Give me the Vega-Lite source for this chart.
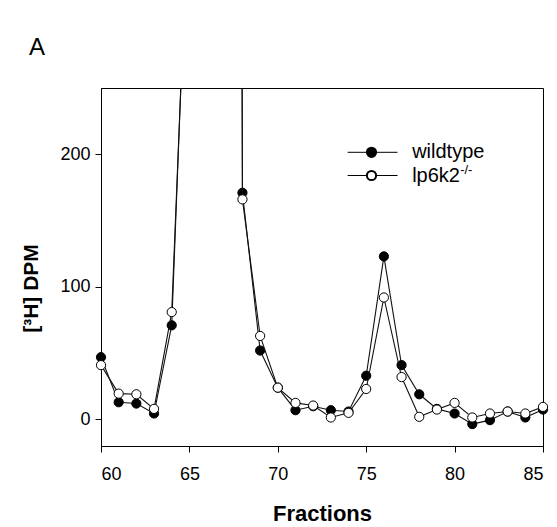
{
  "$schema": "https://vega.github.io/schema/vega-lite/v6.json",
  "width": 442,
  "height": 358,
  "autosize": {"type": "none"},
  "padding": {"left": 101, "top": 88, "right": 14, "bottom": 81},
  "background": "white",
  "config": {
    "font": "Liberation Sans",
    "view": {"stroke": "black", "strokeWidth": 1},
    "axis": {"grid": false, "domainColor": "black", "tickColor": "black", "labelColor": "black", "titleColor": "black", "labelFont": "Liberation Sans", "titleFont": "Liberation Sans"}
  },
  "title": {"text": "A", "anchor": "start", "frame": "group", "dx": -72, "offset": 28, "fontSize": 24, "fontWeight": "normal", "font": "Liberation Sans", "color": "black"},
  "datasets": {
    "counts": [
      {"fraction": 60, "series": "wildtype", "dpm": 47},
      {"fraction": 61, "series": "wildtype", "dpm": 13},
      {"fraction": 62, "series": "wildtype", "dpm": 12},
      {"fraction": 63, "series": "wildtype", "dpm": 4.5},
      {"fraction": 64, "series": "wildtype", "dpm": 71},
      {"fraction": 65, "series": "wildtype", "dpm": 420},
      {"fraction": 66, "series": "wildtype", "dpm": 6000},
      {"fraction": 67, "series": "wildtype", "dpm": 5000},
      {"fraction": 68, "series": "wildtype", "dpm": 171},
      {"fraction": 69, "series": "wildtype", "dpm": 52},
      {"fraction": 70, "series": "wildtype", "dpm": 24},
      {"fraction": 71, "series": "wildtype", "dpm": 7},
      {"fraction": 72, "series": "wildtype", "dpm": 10},
      {"fraction": 73, "series": "wildtype", "dpm": 7},
      {"fraction": 74, "series": "wildtype", "dpm": 6},
      {"fraction": 75, "series": "wildtype", "dpm": 33},
      {"fraction": 76, "series": "wildtype", "dpm": 123},
      {"fraction": 77, "series": "wildtype", "dpm": 41},
      {"fraction": 78, "series": "wildtype", "dpm": 19},
      {"fraction": 79, "series": "wildtype", "dpm": 8},
      {"fraction": 80, "series": "wildtype", "dpm": 4.5},
      {"fraction": 81, "series": "wildtype", "dpm": -3.5},
      {"fraction": 82, "series": "wildtype", "dpm": -0.5},
      {"fraction": 83, "series": "wildtype", "dpm": 6},
      {"fraction": 84, "series": "wildtype", "dpm": 1.5},
      {"fraction": 85, "series": "wildtype", "dpm": 7.5},
      {"fraction": 60, "series": "lp6k2", "dpm": 41},
      {"fraction": 61, "series": "lp6k2", "dpm": 19.5},
      {"fraction": 62, "series": "lp6k2", "dpm": 19},
      {"fraction": 63, "series": "lp6k2", "dpm": 8},
      {"fraction": 64, "series": "lp6k2", "dpm": 81},
      {"fraction": 65, "series": "lp6k2", "dpm": 410},
      {"fraction": 66, "series": "lp6k2", "dpm": 6000},
      {"fraction": 67, "series": "lp6k2", "dpm": 5000},
      {"fraction": 68, "series": "lp6k2", "dpm": 166},
      {"fraction": 69, "series": "lp6k2", "dpm": 63},
      {"fraction": 70, "series": "lp6k2", "dpm": 24},
      {"fraction": 71, "series": "lp6k2", "dpm": 12.5},
      {"fraction": 72, "series": "lp6k2", "dpm": 10.5},
      {"fraction": 73, "series": "lp6k2", "dpm": 1.5},
      {"fraction": 74, "series": "lp6k2", "dpm": 5},
      {"fraction": 75, "series": "lp6k2", "dpm": 23},
      {"fraction": 76, "series": "lp6k2", "dpm": 92},
      {"fraction": 77, "series": "lp6k2", "dpm": 32},
      {"fraction": 78, "series": "lp6k2", "dpm": 2},
      {"fraction": 79, "series": "lp6k2", "dpm": 7.5},
      {"fraction": 80, "series": "lp6k2", "dpm": 12.5},
      {"fraction": 81, "series": "lp6k2", "dpm": 1.5},
      {"fraction": 82, "series": "lp6k2", "dpm": 4.5},
      {"fraction": 83, "series": "lp6k2", "dpm": 6},
      {"fraction": 84, "series": "lp6k2", "dpm": 4.5},
      {"fraction": 85, "series": "lp6k2", "dpm": 9.5}
    ],
    "legend": [
      {"series": "wildtype", "label": "wildtype", "sup": ""},
      {"series": "lp6k2", "label": "lp6k2", "sup": "-/-"}
    ]
  },
  "layer": [
    {"data": {"name": "counts"},
     "transform": [{"filter": "datum.series === 'wildtype'"}],
     "mark": {"type": "line", "color": "#111111", "strokeWidth": 1.1, "clip": true},
     "encoding": {
       "x": {"field": "fraction", "type": "quantitative",
         "scale": {"domain": [60, 85], "nice": false, "zero": false},
         "axis": {"values": [60, 65, 70, 75, 80, 85], "tickSize": 6, "labelFontSize": 18, "labelPadding": 13, "title": "Fractions", "titleFontSize": 22, "titleFontWeight": "bold", "titlePadding": 20}},
       "y": {"field": "dpm", "type": "quantitative",
         "scale": {"domain": [-20, 250], "nice": false, "zero": false},
         "axis": {"values": [0, 100, 200], "tickSize": 6, "labelFontSize": 18, "labelPadding": 5, "title": "[³H] DPM", "titleFontSize": 21, "titleFontWeight": "bold", "titleX": -60, "titleY": 200, "titleAngle": -90, "titleAlign": "center", "titleBaseline": "bottom"}}
     }},
    {"data": {"name": "counts"},
     "transform": [{"filter": "datum.series === 'wildtype' && datum.dpm <= 250"}],
     "mark": {"type": "point", "shape": "circle", "filled": true, "fill": "black", "stroke": "black", "strokeWidth": 1, "size": 85, "opacity": 1},
     "encoding": {"x": {"field": "fraction", "type": "quantitative"}, "y": {"field": "dpm", "type": "quantitative"}}},
    {"data": {"name": "counts"},
     "transform": [{"filter": "datum.series === 'lp6k2'"}],
     "mark": {"type": "line", "color": "#111111", "strokeWidth": 1.1, "clip": true},
     "encoding": {"x": {"field": "fraction", "type": "quantitative"}, "y": {"field": "dpm", "type": "quantitative"}}},
    {"data": {"name": "counts"},
     "transform": [{"filter": "datum.series === 'lp6k2' && datum.dpm <= 250"}],
     "mark": {"type": "point", "shape": "circle", "filled": true, "fill": "white", "stroke": "black", "strokeWidth": 1, "size": 85, "opacity": 1},
     "encoding": {"x": {"field": "fraction", "type": "quantitative"}, "y": {"field": "dpm", "type": "quantitative"}}},
    {"data": {"name": "legend"},
     "transform": [{"filter": "datum.series === 'wildtype'"}],
     "layer": [
       {"mark": {"type": "rule", "color": "black", "strokeWidth": 1},
        "encoding": {"x": {"datum": 73.95, "type": "quantitative"}, "x2": {"datum": 76.77}, "y": {"datum": 201.5, "type": "quantitative"}}},
       {"mark": {"type": "point", "shape": "circle", "filled": true, "fill": "black", "stroke": "black", "size": 85, "opacity": 1},
        "encoding": {"x": {"datum": 75.3, "type": "quantitative"}, "y": {"datum": 201.5, "type": "quantitative"}}},
       {"mark": {"type": "text", "align": "left", "baseline": "middle", "fontSize": 20, "font": "Liberation Sans", "color": "black"},
        "encoding": {"x": {"datum": 77.6, "type": "quantitative"}, "y": {"datum": 201.5, "type": "quantitative"}, "text": {"field": "label"}}}
     ]},
    {"data": {"name": "legend"},
     "transform": [{"filter": "datum.series === 'lp6k2'"}],
     "layer": [
       {"mark": {"type": "rule", "color": "black", "strokeWidth": 1},
        "encoding": {"x": {"datum": 73.95, "type": "quantitative"}, "x2": {"datum": 76.77}, "y": {"datum": 184, "type": "quantitative"}}},
       {"mark": {"type": "point", "shape": "circle", "filled": true, "fill": "white", "stroke": "black", "size": 85, "opacity": 1},
        "encoding": {"x": {"datum": 75.3, "type": "quantitative"}, "y": {"datum": 184, "type": "quantitative"}}},
       {"mark": {"type": "text", "align": "left", "baseline": "middle", "fontSize": 20, "font": "Liberation Sans", "color": "black"},
        "encoding": {"x": {"datum": 77.6, "type": "quantitative"}, "y": {"datum": 184, "type": "quantitative"}, "text": {"field": "label"}}},
       {"mark": {"type": "text", "align": "left", "baseline": "middle", "fontSize": 13, "font": "Liberation Sans", "color": "black", "dx": 48, "dy": -6},
        "encoding": {"x": {"datum": 77.6, "type": "quantitative"}, "y": {"datum": 184, "type": "quantitative"}, "text": {"field": "sup"}}}
     ]}
  ]
}
